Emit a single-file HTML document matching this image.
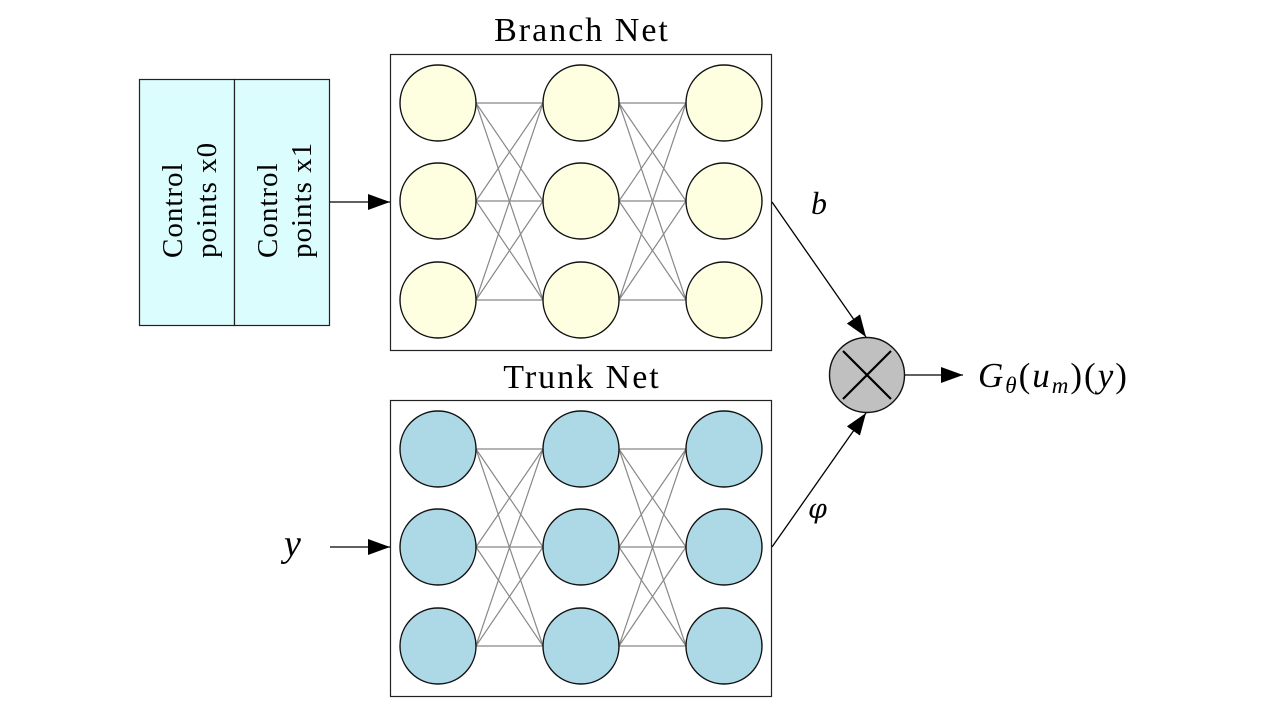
<!DOCTYPE html>
<html><head><meta charset="utf-8"><style>
html,body{margin:0;padding:0;background:#fff;}
svg{display:block;}
</style></head><body>
<svg width="1280" height="720" viewBox="0 0 1280 720" xmlns="http://www.w3.org/2000/svg">
<defs>
<marker id="ah2" markerWidth="22" markerHeight="16" refX="22" refY="8" orient="auto" markerUnits="userSpaceOnUse" viewBox="0 0 22 16">
<path d="M0,0 L22,8 L0,16 Z" fill="#000"/>
</marker>
</defs>

<!-- control boxes -->
<rect x="139.5" y="79.5" width="95" height="246" fill="#dcfdfd" stroke="#222" stroke-width="1.2"/>
<rect x="234.5" y="79.5" width="95" height="246" fill="#dcfdfd" stroke="#222" stroke-width="1.2"/>
<g font-family="Liberation Serif, serif" font-size="29" letter-spacing="1" fill="#000">
<text transform="translate(182,258) rotate(-90)">Control</text>
<text transform="translate(216,258) rotate(-90)">points x0</text>
<text transform="translate(277,258) rotate(-90)">Control</text>
<text transform="translate(311,258) rotate(-90)">points x1</text>
</g>
<line x1="330" y1="202" x2="390" y2="202" stroke="#000" stroke-width="1.3" marker-end="url(#ah2)"/>

<!-- titles -->
<g font-family="Liberation Serif, serif" font-size="34" letter-spacing="2" fill="#000" text-anchor="middle">
<text x="582" y="41">Branch Net</text>
<text x="582" y="388">Trunk Net</text>
</g>

<!-- boxes -->
<rect x="390.5" y="54.5" width="381" height="296" fill="#fff" stroke="#222" stroke-width="1.2"/>
<rect x="390.5" y="400.5" width="381" height="296" fill="#fff" stroke="#222" stroke-width="1.2"/>

<!-- connections -->
<g stroke="#888" stroke-width="1.2">
<path d="M476,103L543,103M476,103L543,201M476,103L543,300M476,201L543,103M476,201L543,201M476,201L543,300M476,300L543,103M476,300L543,201M476,300L543,300"/>
<path d="M619,103L686,103M619,103L686,201M619,103L686,300M619,201L686,103M619,201L686,201M619,201L686,300M619,300L686,103M619,300L686,201M619,300L686,300"/>
<path d="M476,449L543,449M476,449L543,547M476,449L543,646M476,547L543,449M476,547L543,547M476,547L543,646M476,646L543,449M476,646L543,547M476,646L543,646"/>
<path d="M619,449L686,449M619,449L686,547M619,449L686,646M619,547L686,449M619,547L686,547M619,547L686,646M619,646L686,449M619,646L686,547M619,646L686,646"/>
</g>

<g stroke="#111" stroke-width="1.4" fill="#fefee0">
<circle cx="438" cy="103" r="38"/><circle cx="581" cy="103" r="38"/><circle cx="724" cy="103" r="38"/>
<circle cx="438" cy="201" r="38"/><circle cx="581" cy="201" r="38"/><circle cx="724" cy="201" r="38"/>
<circle cx="438" cy="300" r="38"/><circle cx="581" cy="300" r="38"/><circle cx="724" cy="300" r="38"/>
</g>
<g stroke="#111" stroke-width="1.4" fill="#add8e6">
<circle cx="438" cy="449" r="38"/><circle cx="581" cy="449" r="38"/><circle cx="724" cy="449" r="38"/>
<circle cx="438" cy="547" r="38"/><circle cx="581" cy="547" r="38"/><circle cx="724" cy="547" r="38"/>
<circle cx="438" cy="646" r="38"/><circle cx="581" cy="646" r="38"/><circle cx="724" cy="646" r="38"/>
</g>

<!-- y input -->
<text x="284" y="556" font-family="Liberation Serif, serif" font-style="italic" font-size="38">y</text>
<line x1="330" y1="547" x2="390" y2="547" stroke="#000" stroke-width="1.3" marker-end="url(#ah2)"/>

<!-- to multiply -->
<line x1="772" y1="202" x2="866" y2="337" stroke="#000" stroke-width="1.3" marker-end="url(#ah2)"/>
<line x1="772" y1="547" x2="866" y2="413" stroke="#000" stroke-width="1.3" marker-end="url(#ah2)"/>
<text x="811" y="214" font-family="Liberation Serif, serif" font-style="italic" font-size="32">b</text>
<text x="808" y="518" font-family="DejaVu Serif, serif" font-style="italic" font-size="27">φ</text>

<circle cx="867" cy="375" r="37.5" fill="#c0c0c0" stroke="#111" stroke-width="1.4"/>
<path d="M843,351L891,399M891,351L843,399" stroke="#000" stroke-width="2.2"/>
<line x1="905" y1="375" x2="963" y2="375" stroke="#000" stroke-width="1.3" marker-end="url(#ah2)"/>

<text x="978" y="387" font-family="Liberation Serif, serif" font-size="35" letter-spacing="2"><tspan font-style="italic">G</tspan><tspan font-style="italic" font-size="23" dy="6">θ</tspan><tspan dy="-6">(</tspan><tspan font-style="italic">u</tspan><tspan font-style="italic" font-size="23" dy="6">m</tspan><tspan dy="-6">)(</tspan><tspan font-style="italic">y</tspan><tspan>)</tspan></text>
</svg>
</body></html>
